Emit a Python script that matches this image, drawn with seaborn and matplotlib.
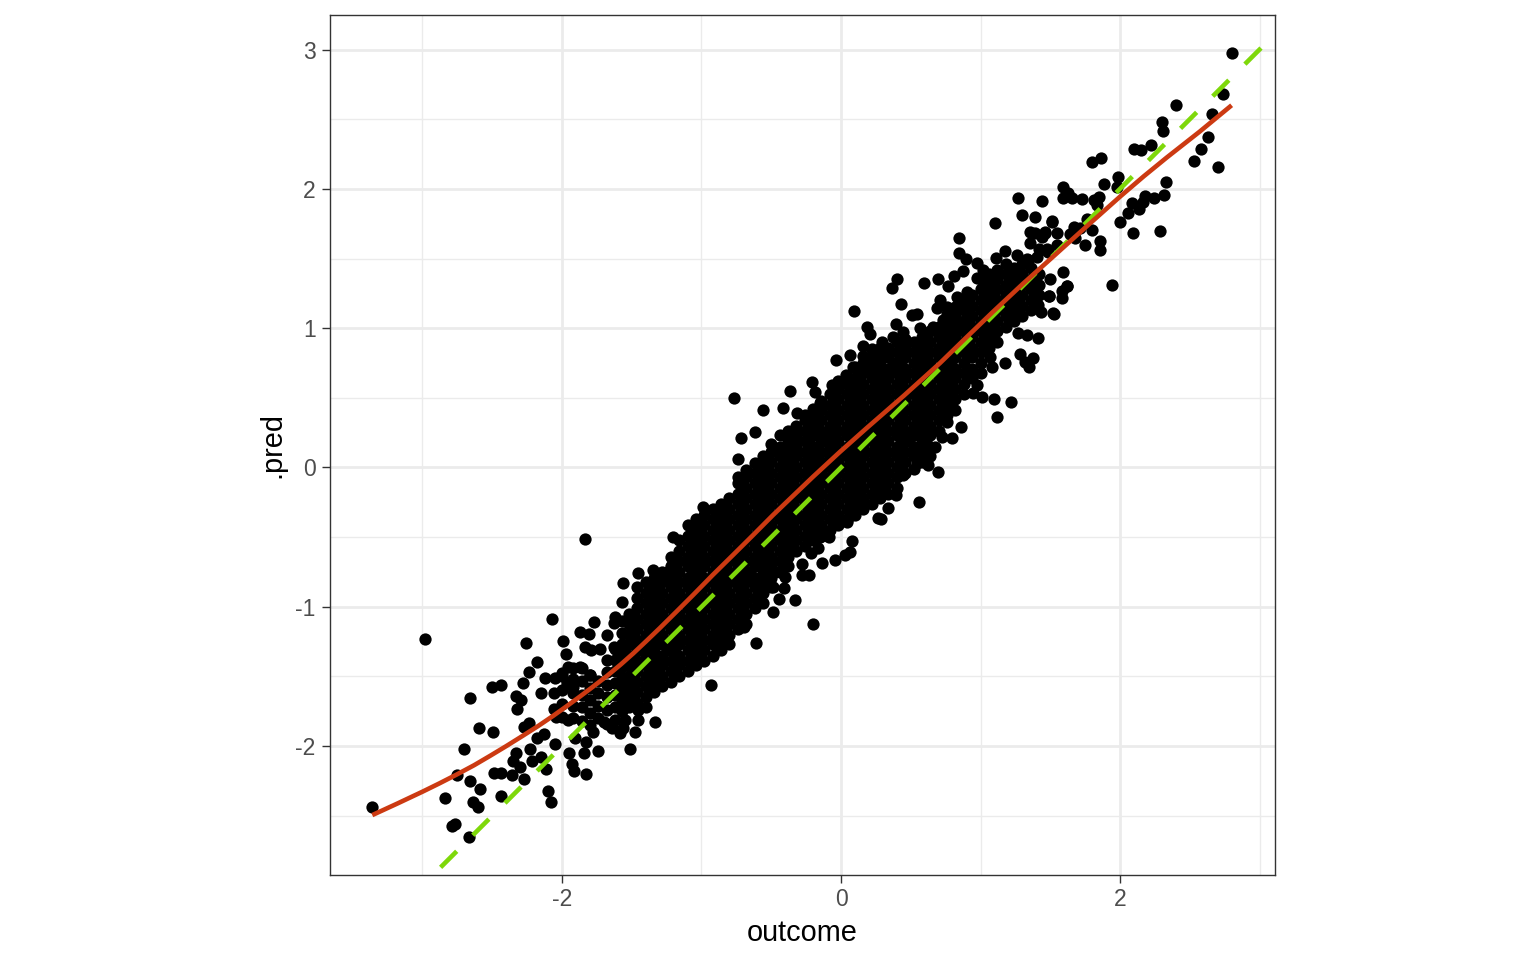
import matplotlib
matplotlib.use("Agg")
import matplotlib.pyplot as plt
import pandas as pd
import seaborn as sns
from matplotlib.ticker import FixedLocator

# Individually readable points
sparse_points = [
 (-3.36,-2.44),(-2.98,-1.23),(-2.79,-2.57),(-2.77,-2.56),(-2.67,-2.65),(-2.84,-2.37),(-2.755,-2.21),(-2.66,-2.25),
 (-2.585,-2.31),(-2.635,-2.40),(-2.60,-2.44),(-2.705,-2.02),(-2.595,-1.87),(-2.495,-1.90),(-2.66,-1.655),(-2.505,-1.575),
 (-2.44,-1.56),(-2.44,-2.355),(-2.487,-2.19),(-2.435,-2.195),(-2.356,-2.21),(-2.27,-2.236),(-2.30,-2.15),(-2.35,-2.107),
 (-2.33,-2.05),(-2.23,-2.02),(-2.217,-2.11),(-2.15,-2.076),(-2.115,-2.166),(-2.10,-2.32),(-2.08,-2.40),(-2.05,-1.985),
 (-1.95,-2.05),(-1.926,-2.13),(-1.916,-2.176),(-1.83,-2.20),(-1.845,-2.05),(-1.74,-2.035),(-1.83,-1.97),(-1.51,-2.02),
 (-1.477,-1.897),(-1.333,-1.827),(-2.18,-1.94),(-2.13,-1.91),(-2.275,-1.86),(-2.24,-1.836),(-2.32,-1.73),(-2.296,-1.67),
 (-2.33,-1.64),(-2.15,-1.617),(-2.28,-1.545),(-2.24,-1.466),(-2.18,-1.394),(-2.125,-1.51),(-2.26,-1.258),(-2.07,-1.087),
 (-1.99,-1.245),(-1.974,-1.34),(-1.87,-1.18),(-1.81,-1.195),(-1.77,-1.107),(-1.835,-1.286),(-1.73,-1.30),(-1.795,-1.31),
 (-1.565,-0.83),(-1.457,-0.755),(-1.35,-0.735),(-1.57,-0.963),(-1.62,-1.07),(-1.63,-1.118),(-1.68,-1.205),(-1.63,-1.29),
 (-2.05,-1.513),(-2.0,-1.477),(-1.955,-1.434),(-1.87,-1.434),(-1.80,-1.49),(-2.06,-1.62),(-2.06,-1.73),(-1.966,-1.55),
 (-1.92,-1.574),(-1.955,-1.81),(-2.04,-1.79),(-1.775,-1.90),(-1.906,-1.944),(-1.80,-1.85),(-1.70,-1.825),(-1.644,-1.87),
 (-1.583,-1.908),(-1.548,-1.81),(-1.56,-1.87),(-1.457,-1.74),(-1.453,-1.81),(-1.835,-0.513),(-0.77,0.50),(-0.363,0.55),
 (-0.557,0.415),(-0.413,0.425),(-0.318,0.39),(-0.62,0.257),(-0.717,0.21),(-0.74,0.06),(-0.99,-0.28),(-1.207,-0.497),
 (-0.203,-1.126),(-0.611,-1.26),(-0.693,-1.143),(-0.93,-1.563),(-0.49,-1.04),(-0.332,-0.951),(-0.444,-0.944),(-0.41,-0.863),
 (-0.40,-0.784),(-0.49,-0.86),(-0.28,-0.772),(-0.227,-0.772),(-0.28,-0.695),(-0.134,-0.688),(-0.043,-0.664),(0.029,-0.628),
 (0.065,-0.604),(0.08,-0.528),(-0.215,-0.616),(-0.163,-0.58),(-0.084,-0.497),(-0.15,-0.497),(0.268,-0.365),(0.143,-0.262),
 (0.045,-0.377),(0.095,1.123),(0.404,1.351),(0.369,1.289),(0.432,1.174),(0.595,1.327),(0.695,1.355),(0.765,1.305),
 (0.846,1.648),(0.846,1.538),(0.894,1.497),(0.808,1.375),(0.877,1.413),(0.973,1.47),(1.02,1.418),(0.973,1.358),
 (1.11,1.506),(1.176,1.554),(1.26,1.525),(1.33,1.495),(1.353,1.693),(1.39,1.68),(1.46,1.68),(1.55,1.685),
 (1.353,1.613),(1.42,1.566),(1.106,1.757),(1.51,1.764),(1.667,1.729),(1.654,1.669),(1.475,1.566),(1.594,1.40),
 (1.498,1.351),(1.622,1.303),(1.582,1.269),(1.582,1.214),(1.493,1.231),(1.528,1.102),(1.435,1.118),(1.414,0.932),
 (1.271,0.963),(1.33,0.951),(1.283,0.815),(1.374,0.784),(1.35,0.724),(1.319,0.76),(1.173,0.748),(1.068,0.795),
 (1.08,0.724),(0.973,0.592),(0.948,0.533),(1.008,0.508),(1.099,0.492),(1.216,0.468),(1.121,0.363),(0.86,0.293),
 (0.757,0.329),(0.794,0.21),(0.722,0.221),(0.674,0.149),(0.698,-0.03),(0.626,0.018),(0.543,0.03),(0.447,-0.054),
 (0.392,-0.197),(0.557,-0.245),(0.339,-0.293),(0.285,-0.37),(0.136,-0.269),(0.04,-0.389),(-0.115,-0.485),(-0.21,0.614),
 (-0.186,0.54),(-0.15,0.465),(-0.062,0.592),(-0.036,0.772),(0.065,0.808),(0.156,0.874),(0.292,0.903),(0.088,0.724),
 (0.036,0.664),(0.184,1.006),(0.208,0.958),(0.392,1.028),(0.375,0.939),(0.543,1.102),(0.507,1.095),(0.447,0.975),
 (0.566,0.999),(0.662,1.011),(0.686,1.143),(0.71,1.203),(0.901,1.262),(0.83,1.226),(0.757,1.154),(0.853,1.154),
 (0.80,1.059),(0.90,1.083),(0.73,1.059),(0.853,1.011),(2.805,2.973),(2.74,2.68),(2.404,2.60),(2.66,2.537),
 (2.633,2.37),(2.58,2.288),(2.53,2.198),(2.70,2.16),(2.30,2.483),(2.305,2.418),(2.222,2.315),(2.153,2.277),
 (2.10,2.286),(1.866,2.222),(1.80,2.195),(1.986,2.083),(1.976,2.016),(1.888,2.033),(2.333,2.052),(2.314,1.954),
 (2.244,1.932),(2.176,1.951),(2.168,1.908),(2.084,1.897),(2.136,1.856),(2.06,1.825),(2.0,1.76),(2.093,1.686),
 (2.29,1.696),(1.591,2.016),(1.63,1.968),(1.594,1.932),(1.654,1.932),(1.725,1.927),(1.81,1.92),(1.846,1.944),
 (1.833,1.884),(1.267,1.937),(1.44,1.915),(1.297,1.813),(1.39,1.80),(1.513,1.772),(1.766,1.782),(1.713,1.717),
 (1.797,1.705),(1.642,1.676),(1.462,1.693),(1.44,1.657),(1.854,1.628),(1.857,1.561),(1.752,1.6),(1.678,1.645),
 (1.945,1.31),(1.427,1.561),(1.547,1.597),(1.487,1.549),(1.344,1.49),(1.403,1.513),(1.618,1.303),(1.491,1.231),
 (1.414,1.167),(1.522,1.109),
]

# The central band is saturated in the reference: single points cannot be told
# apart there, so these columns are estimates of its extent at each outcome.
core_columns = [
 (-2.00,[-1.79,-1.70,-1.60,-1.50]),
 (-1.92,[-1.80,-1.71,-1.62,-1.52,-1.44]),
 (-1.86,[-1.82,-1.72,-1.63,-1.53,-1.44]),
 (-1.80,[-1.76,-1.67,-1.58,-1.49]),
 (-1.74,[-1.80,-1.71,-1.62,-1.53]),
 (-1.68,[-1.84,-1.74,-1.65,-1.56,-1.47,-1.38]),
 (-1.62,[-1.81,-1.72,-1.63,-1.55,-1.46,-1.38,-1.30]),
 (-1.57,[-1.75,-1.67,-1.59,-1.51,-1.43,-1.35,-1.27,-1.19,-1.10]),
 (-1.52,[-1.72,-1.65,-1.57,-1.50,-1.42,-1.35,-1.27,-1.20,-1.12,-1.05]),
 (-1.46,[-1.69,-1.61,-1.54,-1.46,-1.39,-1.31,-1.24,-1.16,-1.09,-1.01,-0.94,-0.86]),
 (-1.40,[-1.72,-1.65,-1.57,-1.50,-1.42,-1.35,-1.27,-1.20,-1.12,-1.05,-0.97,-0.90,-0.82]),
 (-1.34,[-1.61,-1.54,-1.46,-1.39,-1.31,-1.24,-1.16,-1.09,-1.01,-0.94,-0.86,-0.79]),
 (-1.28,[-1.57,-1.50,-1.42,-1.35,-1.27,-1.20,-1.12,-1.05,-0.97,-0.90,-0.82,-0.75]),
 (-1.22,[-1.54,-1.46,-1.39,-1.31,-1.24,-1.16,-1.09,-1.01,-0.94,-0.86,-0.79,-0.71,-0.64]),
 (-1.16,[-1.50,-1.42,-1.35,-1.27,-1.20,-1.12,-1.05,-0.97,-0.90,-0.82,-0.75,-0.67,-0.60,-0.52]),
 (-1.10,[-1.46,-1.39,-1.31,-1.24,-1.16,-1.09,-1.01,-0.94,-0.86,-0.79,-0.71,-0.64,-0.56,-0.49,-0.41]),
 (-1.04,[-1.42,-1.35,-1.27,-1.20,-1.12,-1.05,-0.97,-0.90,-0.82,-0.75,-0.67,-0.60,-0.52,-0.45,-0.37]),
 (-0.98,[-1.39,-1.31,-1.24,-1.16,-1.09,-1.01,-0.94,-0.86,-0.79,-0.71,-0.64,-0.56,-0.49,-0.41,-0.34]),
 (-0.92,[-1.35,-1.27,-1.20,-1.12,-1.05,-0.97,-0.90,-0.82,-0.75,-0.67,-0.60,-0.52,-0.45,-0.37,-0.30]),
 (-0.86,[-1.31,-1.24,-1.16,-1.09,-1.01,-0.94,-0.86,-0.79,-0.71,-0.64,-0.56,-0.49,-0.41,-0.34,-0.26]),
 (-0.80,[-1.27,-1.20,-1.12,-1.05,-0.97,-0.90,-0.82,-0.75,-0.67,-0.60,-0.52,-0.45,-0.37,-0.30,-0.22]),
 (-0.74,[-1.16,-1.09,-1.01,-0.94,-0.86,-0.79,-0.71,-0.64,-0.56,-0.49,-0.41,-0.34,-0.26,-0.19,-0.11,-0.07]),
 (-0.68,[-1.12,-1.05,-0.97,-0.90,-0.82,-0.75,-0.67,-0.60,-0.52,-0.45,-0.37,-0.30,-0.22,-0.15,-0.07,-0.02]),
 (-0.62,[-1.01,-0.94,-0.86,-0.79,-0.71,-0.64,-0.56,-0.49,-0.41,-0.34,-0.26,-0.19,-0.11,-0.04,0.03]),
 (-0.56,[-0.97,-0.90,-0.82,-0.75,-0.67,-0.60,-0.52,-0.45,-0.37,-0.30,-0.22,-0.15,-0.07,0.00,0.08]),
 (-0.50,[-0.86,-0.79,-0.71,-0.64,-0.56,-0.49,-0.41,-0.34,-0.26,-0.19,-0.11,-0.04,0.04,0.11,0.17]),
 (-0.44,[-0.75,-0.67,-0.60,-0.52,-0.45,-0.37,-0.30,-0.22,-0.15,-0.07,0.00,0.08,0.15,0.23]),
 (-0.38,[-0.71,-0.64,-0.56,-0.49,-0.41,-0.34,-0.26,-0.19,-0.11,-0.04,0.04,0.11,0.19,0.26]),
 (-0.32,[-0.60,-0.52,-0.45,-0.37,-0.30,-0.22,-0.15,-0.07,0.00,0.08,0.15,0.23,0.30]),
 (-0.26,[-0.56,-0.49,-0.41,-0.34,-0.26,-0.19,-0.11,-0.04,0.04,0.11,0.19,0.26,0.34,0.38]),
 (-0.20,[-0.52,-0.45,-0.37,-0.30,-0.22,-0.15,-0.07,0.00,0.08,0.15,0.23,0.30,0.38,0.42]),
 (-0.14,[-0.49,-0.41,-0.34,-0.26,-0.19,-0.11,-0.04,0.04,0.11,0.19,0.26,0.34,0.41,0.48]),
 (-0.08,[-0.45,-0.37,-0.30,-0.22,-0.15,-0.07,0.00,0.08,0.15,0.23,0.30,0.38,0.45,0.53]),
 (-0.02,[-0.41,-0.34,-0.26,-0.19,-0.11,-0.04,0.04,0.11,0.19,0.26,0.34,0.41,0.49,0.56,0.62]),
 (0.04,[-0.37,-0.30,-0.22,-0.15,-0.07,0.00,0.08,0.15,0.23,0.30,0.38,0.45,0.53,0.60,0.66]),
 (0.10,[-0.34,-0.26,-0.19,-0.11,-0.04,0.04,0.11,0.19,0.26,0.34,0.41,0.49,0.56,0.64,0.72]),
 (0.16,[-0.30,-0.22,-0.15,-0.07,0.00,0.08,0.15,0.23,0.30,0.38,0.45,0.53,0.60,0.68,0.75,0.80]),
 (0.22,[-0.26,-0.19,-0.11,-0.04,0.04,0.11,0.19,0.26,0.34,0.41,0.49,0.56,0.64,0.71,0.79,0.85]),
 (0.28,[-0.22,-0.15,-0.07,0.00,0.08,0.15,0.23,0.30,0.38,0.45,0.53,0.60,0.68,0.75,0.83,0.86]),
 (0.34,[-0.19,-0.11,-0.04,0.04,0.11,0.19,0.26,0.34,0.41,0.49,0.56,0.64,0.71,0.79,0.86]),
 (0.40,[-0.15,-0.07,0.00,0.08,0.15,0.23,0.30,0.38,0.45,0.53,0.60,0.68,0.75,0.83,0.90]),
 (0.46,[-0.04,0.04,0.11,0.19,0.26,0.34,0.41,0.49,0.56,0.64,0.71,0.79,0.86,0.92]),
 (0.52,[-0.01,0.08,0.15,0.23,0.30,0.38,0.45,0.53,0.60,0.68,0.75,0.83,0.90]),
 (0.58,[0.04,0.11,0.19,0.26,0.34,0.41,0.49,0.56,0.64,0.71,0.79,0.86,0.94]),
 (0.64,[0.08,0.15,0.23,0.30,0.38,0.45,0.53,0.60,0.68,0.75,0.83,0.90,0.98]),
 (0.70,[0.26,0.34,0.41,0.49,0.56,0.64,0.71,0.79,0.86,0.94,1.01]),
 (0.76,[0.38,0.45,0.53,0.60,0.68,0.75,0.83,0.90,0.98,1.05,1.10]),
 (0.82,[0.41,0.49,0.56,0.64,0.71,0.79,0.86,0.94,1.01,1.09,1.15]),
 (0.88,[0.53,0.60,0.68,0.75,0.83,0.90,0.98,1.05,1.13,1.20]),
 (0.94,[0.64,0.71,0.79,0.86,0.94,1.01,1.09,1.16,1.24]),
 (1.00,[0.68,0.75,0.83,0.90,0.98,1.05,1.13,1.20,1.28,1.35]),
 (1.06,[0.86,0.94,1.01,1.09,1.16,1.24,1.31,1.39]),
 (1.12,[0.90,0.98,1.05,1.13,1.20,1.28,1.35,1.42]),
 (1.18,[1.01,1.09,1.16,1.24,1.31,1.39,1.46]),
 (1.24,[1.05,1.13,1.20,1.28,1.35,1.43]),
 (1.30,[1.09,1.16,1.24,1.31,1.39,1.46]),
 (1.36,[1.13,1.20,1.28,1.35,1.43]),
 (1.42,[1.24,1.31,1.39]),
]

# Further estimated points across rows of the saturated band
core_rows = [
 (0.19,[-0.31,-0.23,-0.13,-0.05,0.07,0.13,0.25,0.31,0.43,0.49,0.61]),
 (0.75,[0.19,0.25,0.37,0.43,0.55,0.61,0.73,0.79]),
 (-0.75,[-1.25,-1.19,-1.07,-1.01,-0.89,-0.83,-0.71,-0.65,-0.53,-0.47]),
 (-1.31,[-1.55,-1.43,-1.37,-1.25,-1.19,-1.07,-1.01,-0.89]),
]

smooth_outcome = [-3.36,-3.18,-3.0,-2.88,-2.755,-2.63,-2.516,-2.40,-2.28,-2.17,-2.064,-1.97,-1.87,-1.78,-1.68,-1.58,-1.49,-1.40,-1.298,-1.18,-1.06,-0.92,-0.774,-0.63,-0.487,-0.34,-0.2,-0.01,0.184,0.45,0.71,0.90,1.09,1.30,1.52,1.76,2.0,2.17,2.335,2.57,2.80]
smooth_pred = [-2.495,-2.412,-2.327,-2.268,-2.204,-2.137,-2.07,-2.0,-1.925,-1.855,-1.783,-1.716,-1.643,-1.575,-1.498,-1.415,-1.335,-1.25,-1.152,-1.035,-0.915,-0.772,-0.628,-0.485,-0.341,-0.20,-0.066,0.11,0.283,0.515,0.75,0.935,1.118,1.315,1.513,1.73,1.944,2.09,2.225,2.41,2.60]
identity_values = [-2.87,3.025]
x_ticks = [-2,0,2]
y_ticks = [-2,-1,0,1,2,3]
x_minor = [-3,-1,1,3]
y_minor = [-2.5,-1.5,-0.5,0.5,1.5,2.5]

points = pd.DataFrame(
    sparse_points
    + [(x, y) for x, ys in core_columns for y in ys]
    + [(x, y) for y, xs in core_rows for x in xs],
    columns=["outcome", ".pred"],
)
smooth = pd.DataFrame({"outcome": smooth_outcome, ".pred": smooth_pred})
identity = pd.DataFrame({"outcome": identity_values, ".pred": identity_values})

sns.set_theme(style="white")
plt.rcParams["font.family"] = ["Liberation Sans", "DejaVu Sans"]

fig = plt.figure(figsize=(15.36, 9.6), dpi=100, facecolor="white")
ax = fig.add_axes([330 / 1536, 85 / 960, 945 / 1536, 860 / 960])

sns.scatterplot(data=points, x="outcome", y=".pred", ax=ax, color="black", s=78, linewidth=0, zorder=3)
sns.lineplot(data=identity, x="outcome", y=".pred", ax=ax, color="#7ED80A", linewidth=3.3,
             dashes=[(4.96, 4.96)], style=[0, 0], legend=False, zorder=4, dash_capstyle="butt", errorbar=None)
sns.lineplot(data=smooth, x="outcome", y=".pred", ax=ax, color="#CC3A12", linewidth=3.3,
             zorder=5, solid_capstyle="butt", errorbar=None)

ax.set_xlim(-3.663, 3.111)
ax.set_ylim(-2.925, 3.248)
ax.xaxis.set_major_locator(FixedLocator(x_ticks))
ax.yaxis.set_major_locator(FixedLocator(y_ticks))
ax.xaxis.set_minor_locator(FixedLocator(x_minor))
ax.yaxis.set_minor_locator(FixedLocator(y_minor))
ax.set_axisbelow(True)
ax.grid(True, which="major", color="#EBEBEB", linewidth=2.0)
ax.grid(True, which="minor", color="#EBEBEB", linewidth=1.0)
ax.tick_params(which="major", length=5.8, width=1.0, color="#333333", labelcolor="#4D4D4D", labelsize=16.5, pad=3,
               bottom=True, left=True)
ax.tick_params(axis="x", which="major", pad=3.5)
ax.tick_params(axis="y", which="major", pad=4.5)
ax.tick_params(which="minor", length=0)
for spine in ax.spines.values():
    spine.set_visible(True)
    spine.set_color("#333333")
    spine.set_linewidth(1.0)
ax.set_xlabel("outcome", fontsize=20.8, color="black", labelpad=6)
ax.set_ylabel(".pred", fontsize=20.8, color="black", labelpad=6.5)
ax.set_xticklabels([str(t) for t in x_ticks])
ax.set_yticklabels([str(t) for t in y_ticks])

fig.savefig("out.png", dpi=100, facecolor="white")
